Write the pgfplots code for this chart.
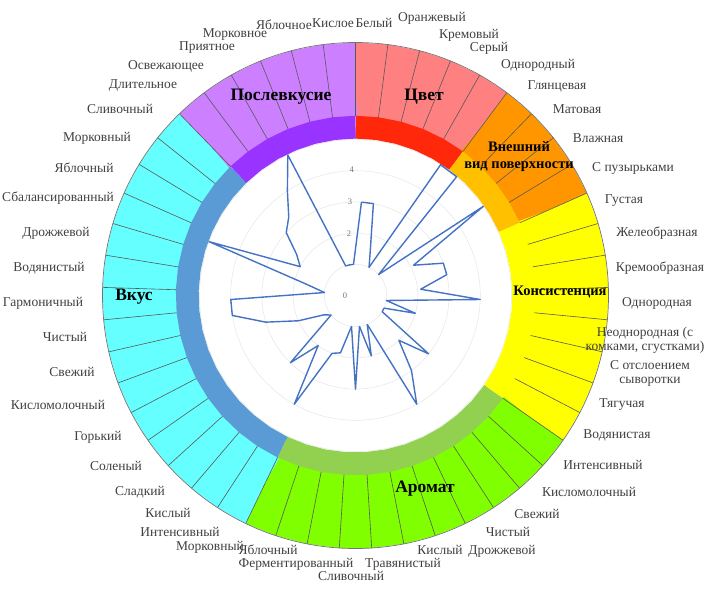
\documentclass[border=0pt]{standalone}
\usepackage{pgfplots}
\pgfplotsset{compat=1.18}
\usepackage{pgfplotstable}
\usepgfplotslibrary{polar}
\usepackage{fontspec}
\setmainfont{Liberation Serif}

\definecolor{cvetL}{RGB}{255,128,128}
\definecolor{cvetD}{RGB}{255,40,10}
\definecolor{vidL}{RGB}{255,150,0}
\definecolor{vidD}{RGB}{255,192,0}
\definecolor{konsL}{RGB}{255,255,0}
\definecolor{aromL}{RGB}{128,255,0}
\definecolor{aromD}{RGB}{146,208,80}
\definecolor{vkusL}{RGB}{102,255,255}
\definecolor{vkusD}{RGB}{91,155,213}
\definecolor{poslL}{RGB}{204,128,255}
\definecolor{poslD}{RGB}{153,51,255}
\definecolor{radar}{RGB}{68,114,196}
\definecolor{lblc}{RGB}{64,64,64}

% k = segment (0 = Белый, clockwise from the top), v = score; row 49 closes the line
\pgfplotstableread{
k v
0 3
1 3
2 1.5
3 1
4 5
5 5
6 1
7 5
8 2.1
9 3
10 3
11 2.1
12 4
13 1
14 2
15 1
16 1
17 3
18 2
19 3
20 4
21 1
22 2
23 1
24 3
25 1
26 1.9
27 2
28 4
29 2
30 3
31 1
32 1.2
33 2
34 3
35 4
36 4
37 1
38 1.6
39 5
40 2
41 2.3
42 3
43 3.3
44 4
45 5
46 1
47 1
48 1
49 3
}\radardata

\pgfplotsset{
  ring/.style={line width=73.9pt, line join=miter},
  band/.style={line width=22.8pt, line join=miter},
}

\begin{document}
\begin{tikzpicture}[x=1pt,y=1pt,
  lbl/.style={text=lblc, inner sep=0pt, align=center, font=\fontsize{13.5}{14}\selectfont},
  big/.style={text=black, inner sep=0pt, align=center, font=\fontsize{17.5}{18}\selectfont\bfseries},
  mid/.style={text=black, inner sep=0pt, align=center, font=\fontsize{14.5}{17}\selectfont\bfseries},
  num/.style={text=black!55, inner sep=0pt, font=\fontsize{8.5}{9}\selectfont},
]
\path[use as bounding box] (0,0) rectangle (706,-589);
\begin{polaraxis}[
  at={(355.5pt,-295.5pt)}, anchor=center,
  scale only axis, width=506pt, height=506pt,
  ymin=0, ymax=8.11,
  xtick=\empty, ytick={1,2,3,4,5}, yticklabels={},
  ymajorgrids, major grid style={draw=black!10, line width=0.5pt},
  major tick length=0pt,
  axis line style={draw=none},
  clip=false,
]
% outer ring, one thick stroke per group
\addplot[cvetL, ring] table[row sep=\\, x expr={90-\thisrow{b}*360/49}, y expr=6.925]
  {b\\0\\0.02\\1\\2\\3\\4\\4.98\\5\\};
\addplot[vidL, ring] table[row sep=\\, x expr={90-\thisrow{b}*360/49}, y expr=6.925]
  {b\\5\\5.02\\6\\7\\8\\8.98\\9\\};
\addplot[konsL, ring] table[row sep=\\, x expr={90-\thisrow{b}*360/49}, y expr=6.925]
  {b\\9\\9.02\\10\\11\\12\\13\\14\\15\\16\\16.98\\17\\};
\addplot[aromL, ring] table[row sep=\\, x expr={90-\thisrow{b}*360/49}, y expr=6.925]
  {b\\17\\17.02\\18\\19\\20\\21\\22\\23\\24\\25\\26\\27\\27.98\\28\\};
\addplot[vkusL, ring] table[row sep=\\, x expr={90-\thisrow{b}*360/49}, y expr=6.925]
  {b\\28\\28.02\\29\\30\\31\\32\\33\\34\\35\\36\\37\\38\\39\\40\\41\\42\\42.98\\43\\};
\addplot[poslL, ring] table[row sep=\\, x expr={90-\thisrow{b}*360/49}, y expr=6.925]
  {b\\43\\43.02\\44\\45\\46\\47\\48\\48.98\\49\\};
% inner band
\addplot[cvetD, band] table[row sep=\\, x expr={90-\thisrow{b}*360/49}, y expr=5.395]
  {b\\0\\0.02\\1\\2\\3\\4\\4.98\\5\\};
\addplot[vidD, band] table[row sep=\\, x expr={90-\thisrow{b}*360/49}, y expr=5.395]
  {b\\5\\5.02\\6\\7\\8\\8.98\\9\\};
\addplot[konsL, band] table[row sep=\\, x expr={90-\thisrow{b}*360/49}, y expr=5.395]
  {b\\9\\9.02\\10\\11\\12\\13\\14\\15\\16\\16.98\\17\\};
\addplot[aromD, band] table[row sep=\\, x expr={90-\thisrow{b}*360/49}, y expr=5.395]
  {b\\17\\17.02\\18\\19\\20\\21\\22\\23\\24\\25\\26\\27\\27.98\\28\\};
\addplot[vkusD, band] table[row sep=\\, x expr={90-\thisrow{b}*360/49}, y expr=5.395]
  {b\\28\\28.02\\29\\30\\31\\32\\33\\34\\35\\36\\37\\38\\39\\40\\41\\42\\42.98\\43\\};
\addplot[poslD, band] table[row sep=\\, x expr={90-\thisrow{b}*360/49}, y expr=5.395]
  {b\\43\\43.02\\44\\45\\46\\47\\48\\48.98\\49\\};
% segment borders
\pgfplotsinvokeforeach{0,...,48}{
  \draw[black!65, line width=0.6pt] (axis cs:{90-#1*360/49},5.76) -- (axis cs:{90-#1*360/49},8.11);
}
\draw[black!55, line width=0.7pt] (axis cs:0,0) circle[radius=253pt];
% scores
\addplot[radar, line width=1.4pt, line join=round] table[x expr={90-(\thisrow{k}+0.5)*360/49}, y=v] {\radardata};
\end{polaraxis}

\node[num] at (351.7,-170) {4};
\node[num] at (350,-201.7) {3};
\node[num] at (349,-233.3) {2};
\node[num] at (345,-296) {0};

\node[big] at (424,-97) {Цвет};
\node[mid] at (519,-157) {Внешний\\вид поверхности};
\node[mid] at (560,-292) {Консистенция};
\node[big] at (425,-489) {Аромат};
\node[big] at (134,-297) {Вкус};
\node[big] at (281,-97) {Послевкусие};

\node[lbl] at (374,-23) {Белый};
\node[lbl] at (432,-18) {Оранжевый};
\node[lbl] at (469,-35) {Кремовый};
\node[lbl] at (489,-48) {Серый};
\node[lbl] at (538,-65) {Однородный};
\node[lbl] at (557,-86) {Глянцевая};
\node[lbl] at (577,-109) {Матовая};
\node[lbl] at (598,-138) {Влажная};
\node[lbl] at (633,-168) {С пузырьками};
\node[lbl] at (624,-201) {Густая};
\node[lbl] at (657,-233) {Желеобразная};
\node[lbl] at (660,-268) {Кремообразная};
\node[lbl] at (657,-303) {Однородная};
\node[lbl] at (645,-340) {Неоднородная (с\\комками, сгустками)};
\node[lbl] at (650,-373) {С отслоением\\сыворотки};
\node[lbl] at (622,-405) {Тягучая};
\node[lbl] at (617,-435) {Водянистая};
\node[lbl] at (603,-465) {Интенсивный};
\node[lbl] at (589,-492) {Кисломолочный};
\node[lbl] at (537,-514) {Свежий};
\node[lbl] at (508,-532) {Чистый};
\node[lbl] at (502,-551) {Дрожжевой};
\node[lbl] at (440,-550) {Кислый};
\node[lbl] at (403,-564) {Травянистый};
\node[lbl] at (351,-576) {Сливочный};
\node[lbl] at (296,-564) {Ферментированный};
\node[lbl] at (268,-550) {Яблочный};
\node[lbl] at (210,-547) {Морковный};
\node[lbl] at (180,-532) {Интенсивный};
\node[lbl] at (168,-513) {Кислый};
\node[lbl] at (140,-492) {Сладкий};
\node[lbl] at (116,-466) {Соленый};
\node[lbl] at (98,-437) {Горький};
\node[lbl] at (58,-405) {Кисломолочный};
\node[lbl] at (72,-372) {Свежий};
\node[lbl] at (65,-337) {Чистый};
\node[lbl] at (43,-303) {Гармоничный};
\node[lbl] at (49,-268) {Водянистый};
\node[lbl] at (56,-233) {Дрожжевой};
\node[lbl] at (58,-198) {Сбалансированный};
\node[lbl] at (84,-168) {Яблочный};
\node[lbl] at (97,-138) {Морковный};
\node[lbl] at (120,-109) {Сливочный};
\node[lbl] at (143,-86) {Длительное};
\node[lbl] at (166,-66) {Освежающее};
\node[lbl] at (207,-48) {Приятное};
\node[lbl] at (235,-35) {Морковное};
\node[lbl] at (284,-25) {Яблочное};
\node[lbl] at (333,-23) {Кислое};
\end{tikzpicture}
\end{document}
